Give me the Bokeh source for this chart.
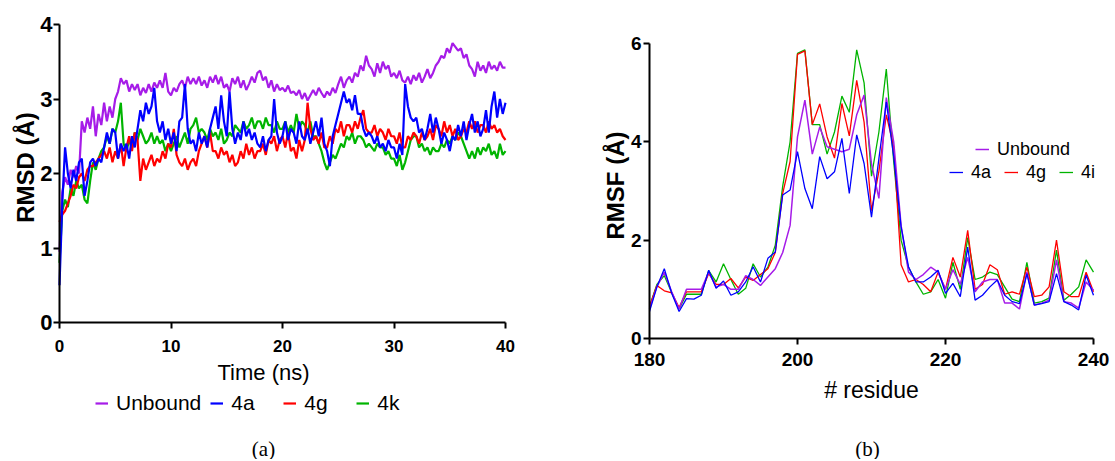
import math
from bokeh.plotting import figure
from bokeh.layouts import row
from bokeh.models import Legend, LegendItem, Label, FixedTicker, Range1d
from bokeh.embed import file_html
from bokeh.resources import INLINE

# ---------------- data: RMSD (a) ----------------
time_step = 0.25
rmsd_unbound = [
    0.95, 1.75, 1.95, 1.85, 2.05, 1.95, 2.1, 2.0, 2.7, 2.55, 2.75, 2.6,
    2.9, 2.5, 2.8, 2.65, 2.95, 2.7, 2.9, 2.75, 3.0, 3.1, 3.28, 3.2,
    3.25, 3.1, 3.2, 3.12, 3.2, 3.05, 3.15, 3.08, 3.2, 3.1, 3.22, 3.15,
    3.25, 3.15, 3.35, 3.1, 3.05, 3.15, 3.1, 3.2, 3.25, 3.15, 3.3, 3.2,
    3.28, 3.2, 3.3, 3.18, 3.25, 3.15, 3.3, 3.22, 3.32, 3.2, 3.3, 3.15,
    3.2, 3.1, 3.28, 3.2, 3.3, 3.15, 3.25, 3.12, 3.2, 3.3, 3.22, 3.35,
    3.38, 3.25, 3.3, 3.15, 3.25, 3.1, 3.2, 3.12, 3.15, 3.1, 3.18, 3.08,
    3.1, 3.05, 3.12, 3.0, 3.08, 2.98, 3.05, 3.12, 3.05, 3.15, 3.08, 3.02,
    3.1, 3.05, 3.15, 3.08, 3.2, 3.3, 3.15, 3.25, 3.3, 3.22, 3.35, 3.3,
    3.45, 3.38, 3.58, 3.45, 3.4, 3.3, 3.48, 3.35, 3.5, 3.4, 3.45, 3.3,
    3.35, 3.28, 3.38, 3.25, 3.22, 3.3, 3.2, 3.32, 3.25, 3.35, 3.22, 3.3,
    3.4, 3.28, 3.35, 3.45, 3.5, 3.58, 3.55, 3.68, 3.62, 3.75, 3.7, 3.65,
    3.68, 3.55, 3.6, 3.45, 3.4, 3.3, 3.5, 3.38, 3.45, 3.35, 3.5, 3.4,
    3.45, 3.38, 3.5, 3.42, 3.42,
]
rmsd_4a = [
    0.5, 1.6, 2.35, 2.0, 1.8, 2.05, 1.9, 2.15, 2.2, 1.7, 1.9, 2.15,
    2.2, 2.1, 2.2, 2.15, 2.35, 2.55, 2.4, 2.6, 2.55, 2.2, 2.4, 2.3,
    2.4, 2.2, 2.5, 2.35, 2.6, 2.85, 2.7, 2.95, 2.8, 2.9, 3.15, 2.7,
    2.55, 2.7, 2.45, 2.6, 2.4, 2.55, 2.3, 2.7, 2.75, 3.2, 2.6, 2.4,
    2.45, 2.3, 2.55, 2.4, 2.5, 2.35, 2.6, 2.75, 2.9, 2.6, 3.05, 2.7,
    2.5, 3.1, 2.6, 2.4, 2.55, 2.45, 2.7, 2.5, 2.6, 2.45, 2.55, 2.4,
    2.35, 2.5, 2.3, 2.45, 2.5, 3.0, 2.55, 2.4, 2.5, 2.7, 2.45, 2.6,
    2.55, 2.4, 2.7, 2.5, 2.45, 2.6, 2.4, 2.55, 2.7, 2.5, 2.75, 2.4,
    2.3, 2.1, 2.5, 2.65, 2.8, 2.95, 3.1, 2.95, 3.0, 2.85, 3.05, 2.8,
    2.8, 2.6, 2.5, 2.55, 2.5, 2.4, 2.5, 2.35, 2.4, 2.3, 2.45, 2.35,
    2.35, 2.2, 2.4, 2.25, 3.2, 2.9, 2.75, 2.7, 2.75, 2.55, 2.6, 2.45,
    2.6, 2.8, 2.55, 2.75, 2.6, 2.4, 2.55, 2.45, 2.3, 2.5, 2.45, 2.65,
    2.5, 2.7, 2.45, 2.65, 2.8, 2.55, 2.7, 2.5, 2.6, 2.85, 2.55, 2.9,
    3.1, 2.75, 3.0, 2.8, 2.95,
]
rmsd_4g = [
    1.35, 1.45, 1.5, 1.6, 1.7, 1.85, 1.8, 1.95, 2.0, 1.9, 2.05, 2.1,
    2.1, 2.15, 2.2, 2.25, 2.3, 2.2, 2.35, 2.15, 2.3, 2.2, 2.4, 2.1,
    2.35, 2.5, 2.3, 2.55, 2.45, 1.9, 2.2, 2.05, 2.15, 2.25, 2.1, 2.2,
    2.15, 2.3, 2.2, 2.4, 2.35, 2.6, 2.25, 2.15, 2.1, 2.2, 2.05, 2.15,
    2.2, 2.1, 2.3, 2.4, 2.5, 2.35, 2.55, 2.3, 2.3, 2.2, 2.35, 2.25,
    2.3, 2.15, 2.25, 2.1, 2.15, 2.3, 2.2, 2.4, 2.25, 2.35, 2.2, 2.3,
    2.3, 2.4, 2.25, 2.45, 2.4, 2.5, 2.3, 2.45, 2.5, 2.35, 2.55, 2.3,
    2.35, 2.2, 2.45, 2.3, 2.45, 2.95, 2.6, 2.45, 2.5, 2.4, 2.55, 2.35,
    2.35, 2.5, 2.4, 2.6, 2.55, 2.7, 2.5, 2.65, 2.65, 2.55, 2.7, 2.6,
    2.75, 2.85, 2.6, 2.55, 2.55, 2.65, 2.5, 2.6, 2.55, 2.45, 2.6, 2.5,
    2.5, 2.4, 2.55, 2.35, 2.35, 2.5, 2.45, 2.55, 2.5, 2.4, 2.55, 2.45,
    2.5, 2.6, 2.45, 2.65, 2.6, 2.5, 2.7, 2.55, 2.65, 2.5, 2.6, 2.45,
    2.5, 2.6, 2.55, 2.7, 2.6, 2.7, 2.55, 2.65, 2.65, 2.55, 2.7, 2.6,
    2.65, 2.55, 2.6, 2.5, 2.45,
]
rmsd_4k = [
    0.8, 1.5, 1.65, 1.55, 1.8, 1.7, 1.9, 1.8, 1.85, 1.65, 1.6, 1.9,
    2.15, 2.05, 2.2, 2.3, 2.35, 2.5, 2.4, 2.6, 2.55, 2.7, 2.95, 2.4,
    2.3, 2.45, 2.35, 2.55, 2.45, 2.6, 2.5, 2.4, 2.45, 2.55, 2.4, 2.5,
    2.4, 2.45, 2.3, 2.4, 2.3, 2.4, 2.5, 2.35, 2.45, 2.55, 2.4, 2.6,
    2.65, 2.75, 2.55, 2.6, 2.55, 2.45, 2.6, 2.5, 2.55, 2.45, 2.6, 2.4,
    2.45, 2.55, 2.5, 2.65, 2.6, 2.55, 2.7, 2.6, 2.65, 2.75, 2.6, 2.7,
    2.7, 2.6, 2.75, 2.65, 2.65, 2.55, 2.7, 2.6, 2.6, 2.7, 2.55, 2.65,
    2.55, 2.8, 2.6, 2.7, 2.65, 2.55, 2.7, 2.5, 2.5, 2.4, 2.3, 2.15,
    2.05, 2.15, 2.25, 2.2, 2.3, 2.4, 2.35, 2.5, 2.45, 2.55, 2.4, 2.5,
    2.5, 2.45, 2.35, 2.4, 2.35, 2.3, 2.4, 2.35, 2.35, 2.25, 2.3, 2.2,
    2.2, 2.1, 2.25, 2.05, 2.15, 2.3, 2.45, 2.5, 2.5, 2.35, 2.4, 2.3,
    2.35, 2.25, 2.35, 2.3, 2.3, 2.4, 2.35, 2.45, 2.4, 2.5, 2.45, 2.55,
    2.5, 2.4, 2.3, 2.2, 2.3, 2.2, 2.35, 2.25, 2.35, 2.3, 2.4, 2.25,
    2.3, 2.2, 2.4, 2.25, 2.3,
]
time_ns = [i * time_step for i in range(len(rmsd_unbound))]

# ---------------- data: RMSF (b) ----------------
residues = list(range(180, 241))
rmsf_unbound = [
    0.6, 1.05, 1.35, 0.95, 0.6, 1.0, 1.0, 1.0, 1.35, 1.05, 1.1, 1.0, 1.0,
    1.28, 1.2, 1.08, 1.25, 1.42, 1.75, 2.3, 4.1, 4.85, 3.75, 4.3, 3.9, 3.85,
    3.8, 3.85, 4.55, 4.95, 3.55, 2.85, 4.9, 4.0, 2.3, 1.35, 1.2, 1.3, 1.45,
    1.35, 1.0, 1.4, 1.1, 1.65, 0.95, 1.15, 1.2, 1.2, 0.72, 0.72, 0.6, 1.35,
    0.68, 0.72, 0.78, 1.6, 0.75, 0.72, 0.62, 1.15, 0.98,
]
rmsf_4a = [
    0.55, 1.05, 1.42, 0.92, 0.55, 0.81, 0.8, 0.88, 1.39, 1.02, 1.17, 0.88,
    0.95, 1.15, 1.46, 1.15, 1.63, 1.76, 2.92, 3.02, 3.8, 3.05, 2.64, 3.7,
    3.25, 3.39, 4.07, 2.95, 4.14, 3.56, 2.47, 3.66, 4.81, 3.7, 2.27, 1.46,
    1.15, 1.15, 1.25, 1.39, 0.92, 1.12, 0.85, 1.86, 0.78, 0.88, 1.05, 1.19,
    0.88, 0.75, 0.71, 1.32, 0.68, 0.71, 0.75, 1.32, 0.75, 0.68, 0.58, 1.29,
    0.88,
]
rmsf_4g = [
    0.65, 1.08, 0.97, 0.93, 0.63, 0.95, 0.95, 0.95, 1.32, 1.1, 1.1, 1.22,
    1.03, 1.25, 1.18, 1.3, 1.42, 1.75, 2.95, 3.6, 5.78, 5.85, 4.35, 4.77,
    4.1, 3.67, 4.78, 4.12, 5.25, 4.4, 2.6, 3.4, 4.55, 3.9, 1.5, 1.15, 1.2,
    1.1, 0.95, 1.35, 1.0, 1.65, 1.25, 2.2, 1.0, 1.1, 1.5, 1.4, 0.9, 0.95,
    0.9, 1.45, 0.85, 0.88, 1.05, 2.0, 0.95, 0.85, 0.85, 1.35, 0.95,
]
rmsf_4i = [
    0.65, 1.1, 1.28, 0.93, 0.6, 0.9, 0.9, 0.9, 1.38, 1.15, 1.52, 1.2, 0.9,
    1.02, 1.52, 1.25, 1.45, 1.9, 3.1, 4.0, 5.8, 5.87, 4.35, 4.35, 3.75, 4.2,
    4.93, 4.6, 5.87, 5.2, 3.3, 4.2, 5.48, 3.6, 2.0, 1.45, 1.15, 0.9, 0.95,
    1.2, 0.82, 1.55, 1.0, 2.05, 1.2, 1.25, 1.35, 1.3, 1.05, 0.8, 0.75, 1.55,
    0.72, 0.75, 0.82, 1.8, 0.78, 0.9, 1.05, 1.6, 1.35,
]

rmsd_ticks_x = [0, 10, 20, 30, 40]
rmsd_ticks_y = [0, 1, 2, 3, 4]
rmsf_ticks_x = [180, 200, 220, 240]
rmsf_ticks_y = [0, 2, 4, 6]

PURPLE = "#A61CE8"
BLUE = "#0000FF"
RED = "#FF0000"
GREEN = "#00B400"
SANS = "Liberation Sans"

# Each figure is one big frame; both axes sit at fixed data positions
# inside it, so tick labels, titles, legends and captions are never clipped.
FIG_H = 459
W1, W2 = 564, 549


def style_axes(p, xticks, yticks, xsize, ysize, x_at, y_at, xb, yb):
    p.xaxis.ticker = FixedTicker(ticks=xticks)
    p.yaxis.ticker = FixedTicker(ticks=yticks)
    for ax in (p.xaxis, p.yaxis):
        ax.axis_line_width = 2
        ax.axis_line_color = "black"
        ax.major_tick_line_width = 2
        ax.major_tick_line_color = "black"
        ax.major_tick_out = 6
        ax.major_tick_in = 0
        ax.minor_tick_line_color = None
        ax.major_label_text_font = SANS
        ax.major_label_text_font_style = "bold"
        ax.major_label_text_color = "black"
        ax.axis_label_text_font = SANS
        ax.axis_label_text_color = "black"
    p.xaxis.major_label_text_font_size = xsize
    p.yaxis.major_label_text_font_size = ysize
    p.xaxis.fixed_location = x_at
    p.yaxis.fixed_location = y_at
    p.xaxis.bounds = xb
    p.yaxis.bounds = yb
    p.xgrid.grid_line_color = None
    p.ygrid.grid_line_color = None
    p.outline_line_color = None


def axis_title(p, text, x, y, size, bold, vertical):
    p.add_layout(Label(x=x, y=FIG_H - y, x_units="screen", y_units="screen",
                       text=text, text_font=SANS, text_font_size=size,
                       text_font_style="bold" if bold else "normal",
                       angle=math.pi / 2 if vertical else 0,
                       text_align="center", text_baseline="middle",
                       text_color="black"))


# ---------------- panel (a) ----------------
# data box: x 0..40 -> px 59..505, y 0..4 -> px 322..24
ax_ppu = 446 / 40
ay_ppu = 298 / 4
p1 = figure(frame_width=W1, frame_height=FIG_H,
            x_range=Range1d(-59 / ax_ppu, 40 + (W1 - 505) / ax_ppu),
            y_range=Range1d(-(FIG_H - 322) / ay_ppu, 4 + 24 / ay_ppu),
            output_backend="svg", toolbar_location=None,
            min_border_left=0, min_border_right=0, min_border_top=0,
            min_border_bottom=0)
style_axes(p1, rmsd_ticks_x, rmsd_ticks_y, "17px", "22px", 0, 0, (0, 40), (0, 4))
p1.xaxis.major_label_standoff = 11
p1.yaxis.major_label_standoff = 1
axis_title(p1, "Time (ns)", 263, 372, "22px", False, False)
axis_title(p1, "RMSD (Å)", 25, 167, "24px", True, True)

r_u = p1.line(time_ns, rmsd_unbound, color=PURPLE, line_width=2.2)
r_k = p1.line(time_ns, rmsd_4k, color=GREEN, line_width=2.2)
r_g = p1.line(time_ns, rmsd_4g, color=RED, line_width=2.2)
r_a = p1.line(time_ns, rmsd_4a, color=BLUE, line_width=2.2)

leg1 = Legend(items=[LegendItem(label="Unbound", renderers=[r_u]),
                     LegendItem(label="4a", renderers=[r_a]),
                     LegendItem(label="4g", renderers=[r_g]),
                     LegendItem(label="4k", renderers=[r_k])],
              orientation="horizontal", location=(95, FIG_H - 415),
              glyph_width=13, glyph_height=20, label_height=20, label_width=43,
              label_standoff=8, spacing=9, padding=0, margin=0,
              border_line_color=None, background_fill_alpha=0,
              label_text_font=SANS, label_text_font_size="21px",
              label_text_color="black")
p1.add_layout(leg1, "center")
p1.add_layout(Label(x=263, y=FIG_H - 448, x_units="screen", y_units="screen",
                    text="(a)", text_font="Liberation Serif",
                    text_font_size="21px", text_align="center",
                    text_baseline="middle", text_color="black"))

# ---------------- panel (b) ----------------
# figure starts at page x 564; data box: x 180..240 -> px 85..529, y 0..6 -> px 338..43
bx_ppu = 444 / 60
by_ppu = 295 / 6
p2 = figure(frame_width=W2, frame_height=FIG_H,
            x_range=Range1d(180 - 85 / bx_ppu, 240 + (W2 - 529) / bx_ppu),
            y_range=Range1d(-(FIG_H - 338) / by_ppu, 6 + 43 / by_ppu),
            output_backend="svg", toolbar_location=None,
            min_border_left=0, min_border_right=0, min_border_top=0,
            min_border_bottom=0)
style_axes(p2, rmsf_ticks_x, rmsf_ticks_y, "19px", "19px", 0, 180, (180, 240), (0, 6))
p2.xaxis.major_label_standoff = 8
p2.yaxis.major_label_standoff = 2
axis_title(p2, "# residue", 307, 389, "23px", False, False)
axis_title(p2, "RMSF (Å)", 51, 185, "24px", True, True)

q_i = p2.line(residues, rmsf_4i, color=GREEN, line_width=1.3)
q_g = p2.line(residues, rmsf_4g, color=RED, line_width=1.3)
q_u = p2.line(residues, rmsf_unbound, color=PURPLE, line_width=1.5)
q_a = p2.line(residues, rmsf_4a, color=BLUE, line_width=1.3)

leg2a = Legend(items=[LegendItem(label="Unbound", renderers=[q_u])],
               location=(411, FIG_H - 160), glyph_width=14, glyph_height=22,
               label_height=22, label_standoff=8, padding=0, margin=0,
               border_line_color=None, background_fill_alpha=0,
               label_text_font=SANS, label_text_font_size="18px",
               label_text_color="black")
leg2b = Legend(items=[LegendItem(label="4a", renderers=[q_a]),
                      LegendItem(label="4g", renderers=[q_g]),
                      LegendItem(label="4i", renderers=[q_i])],
               orientation="horizontal", location=(385, FIG_H - 183),
               glyph_width=14, glyph_height=22, label_height=22, label_width=20,
               label_standoff=8, spacing=13, padding=0, margin=0,
               border_line_color=None, background_fill_alpha=0,
               label_text_font=SANS, label_text_font_size="18px",
               label_text_color="black")
p2.add_layout(leg2a, "center")
p2.add_layout(leg2b, "center")
p2.add_layout(Label(x=303, y=FIG_H - 448, x_units="screen", y_units="screen",
                    text="(b)", text_font="Liberation Serif",
                    text_font_size="21px", text_align="center",
                    text_baseline="middle", text_color="black"))

layout = row(p1, p2)
open("out.html", "w").write(file_html(layout, INLINE))
